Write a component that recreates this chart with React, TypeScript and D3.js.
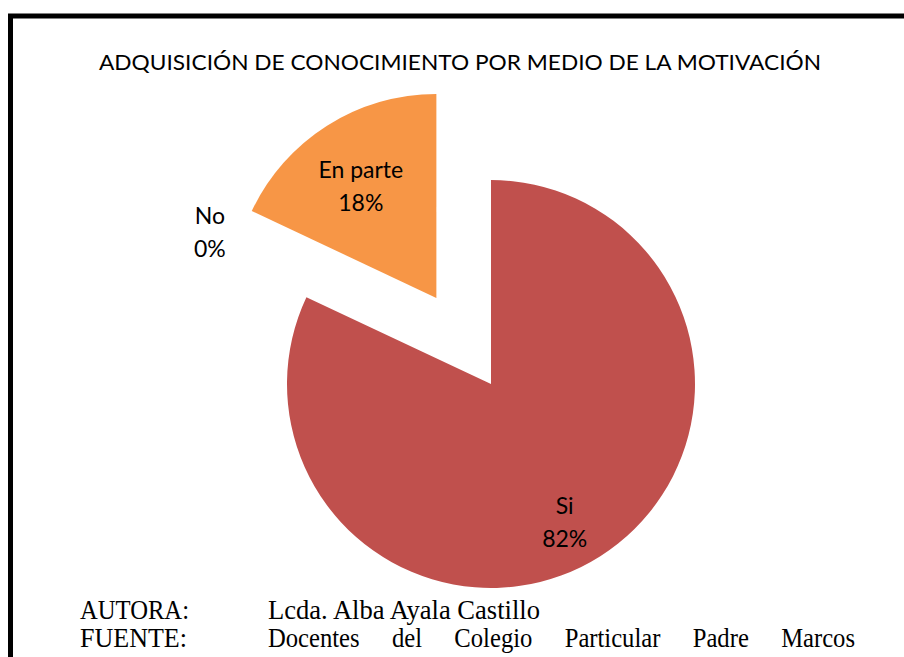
import React, { useLayoutEffect, useRef } from "react";
import * as d3 from "d3";

const title = "ADQUISICIÓN DE CONOCIMIENTO POR MEDIO DE LA MOTIVACIÓN";
const categories = ["Si", "No", "En parte"];
const values = [82, 0, 18];
const percentLabels = ["82%", "0%", "18%"];
const colors = ["#C0504D", "#4F81BD", "#F79646"];
const exploded = [false, false, true];
const footerKeys = ["AUTORA:", "FUENTE:"];
const footerValues = ["Lcda. Alba Ayala Castillo", "Docentes del Colegio Particular Padre Marcos"];

export default function App() {
  const W = 904, H = 657;
  const cx = 491, cy = 384, r = 204;
  const explodeDist = 102;
  const sx = 0.88;
  const justifyRef = useRef<SVGTextElement>(null);

  useLayoutEffect(() => {
    const el = justifyRef.current;
    if (!el) return;
    el.setAttribute("word-spacing", "0");
    const w = el.getComputedTextLength();
    const gaps = footerValues[1].split(" ").length - 1;
    const target = 587 / sx;
    const extra = (target - w) / gaps;
    el.setAttribute("word-spacing", String(extra));
  }, []);

  const pie = d3.pie<number>().sort(null).value((d) => d).startAngle(0).endAngle(2 * Math.PI);
  const arcs = pie(values);
  const arcGen = d3.arc<d3.PieArcDatum<number>>().innerRadius(0).outerRadius(r);

  const labelFont = "Lato, 'Open Sans', sans-serif";

  return (
    <svg width={W} height={H} style={{ position: "absolute", left: 0, top: 0, background: "#fff" }}>
      <rect x={10.5} y={16} width={W + 50} height={H + 50} fill="#fff" stroke="#000" strokeWidth={5} />
      <text x={460} y={70} textAnchor="middle" fontFamily={labelFont} fontSize={22} fill="#000"
        textLength={722} lengthAdjust="spacingAndGlyphs">{title}</text>
      {arcs.map((a, i) => {
        const mid = (a.startAngle + a.endAngle) / 2;
        const dx = exploded[i] ? Math.sin(mid) * explodeDist : 0;
        const dy = exploded[i] ? -Math.cos(mid) * explodeDist : 0;
        if (a.endAngle - a.startAngle <= 0) return null;
        return (
          <path key={categories[i]} d={arcGen(a) || ""} fill={colors[i]}
            transform={`translate(${cx + dx},${cy + dy})`} />
        );
      })}
      {arcs.map((a, i) => {
        const mid = (a.startAngle + a.endAngle) / 2;
        const isZero = a.endAngle - a.startAngle <= 0;
        const ox = exploded[i] ? Math.sin(mid) * explodeDist : 0;
        const oy = exploded[i] ? -Math.cos(mid) * explodeDist : 0;
        const lr = isZero ? r * 1.57 : exploded[i] ? r * 0.67 : r * 0.76;
        const ang = isZero ? mid + 0.06 : i === 0 ? mid + 0.07 : mid - 0.02;
        const lx = cx + ox + Math.sin(ang) * lr;
        const ly = cy + oy - Math.cos(ang) * lr;
        return (
          <text key={"l" + categories[i]} x={lx} textAnchor="middle" fontFamily={labelFont} fontSize={23} fill="#000">
            <tspan x={lx} y={ly - 6}>{categories[i]}</tspan>
            <tspan x={lx} y={ly + 27}>{percentLabels[i]}</tspan>
          </text>
        );
      })}
      <g fontFamily="'Liberation Serif', 'Times New Roman', serif" fontSize={28} fill="#000">
        <text x={80} y={619} textLength={109} lengthAdjust="spacingAndGlyphs">{footerKeys[0]}</text>
        <text x={80} y={647} textLength={107} lengthAdjust="spacingAndGlyphs">{footerKeys[1]}</text>
        <text x={268} y={619} textLength={272} lengthAdjust="spacingAndGlyphs">{footerValues[0]}</text>
        <g transform={`translate(268,0) scale(${sx},1)`}>
          <text ref={justifyRef} x={0} y={647}>{footerValues[1]}</text>
        </g>
      </g>
    </svg>
  );
}
